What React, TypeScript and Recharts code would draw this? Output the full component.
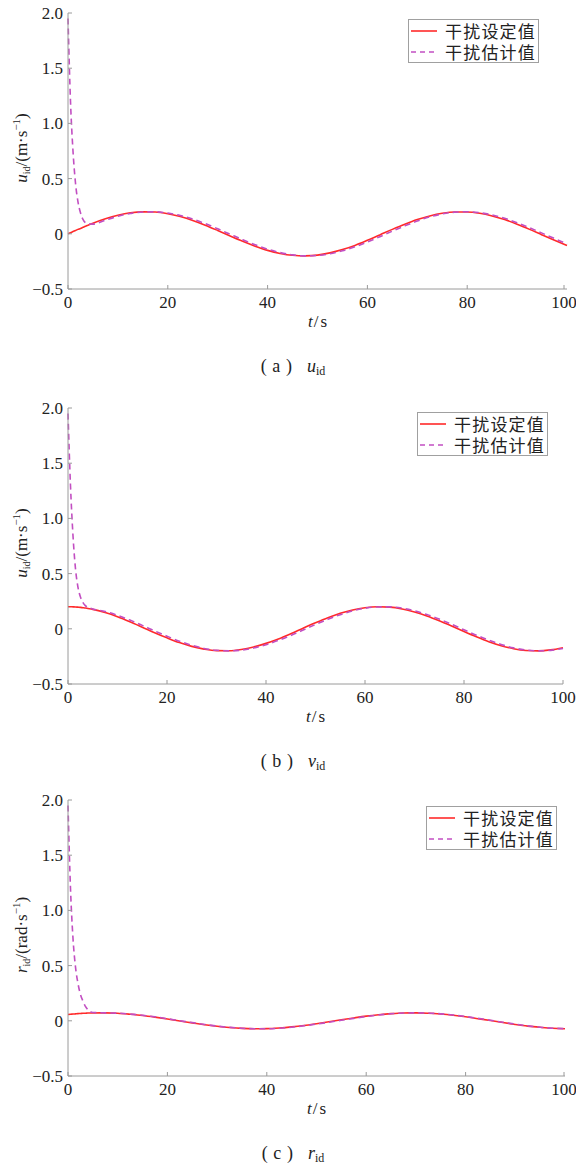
import React from 'react';
import { LineChart, Line, XAxis, YAxis } from 'recharts';

const TIMES = [0, 0.5, 1, 1.5, 2, 2.5, 3, 3.5, 4, 5, 7.5, 10, 12.5, 15, 17.5, 20, 22.5, 25, 27.5, 30, 32.5, 35, 37.5, 40, 42.5, 45, 47.5, 50, 52.5, 55, 57.5, 60, 62.5, 65, 67.5, 70, 72.5, 75, 77.5, 80, 82.5, 85, 87.5, 90, 92.5, 95, 97.5, 100];

const U_SET = [0, 0.01, 0.02, 0.03, 0.04, 0.049, 0.059, 0.069, 0.078, 0.096, 0.136, 0.168, 0.19, 0.199, 0.197, 0.182, 0.156, 0.121, 0.078, 0.03, -0.02, -0.068, -0.112, -0.15, -0.178, -0.195, -0.2, -0.193, -0.173, -0.143, -0.105, -0.059, -0.01, 0.04, 0.087, 0.129, 0.162, 0.186, 0.198, 0.198, 0.186, 0.162, 0.129, 0.087, 0.04, -0.01, -0.059, -0.106];
const U_EST = [1.95, 1.2, 0.75, 0.46, 0.29, 0.19, 0.13, 0.1, 0.09, 0.088, 0.124, 0.159, 0.184, 0.198, 0.199, 0.188, 0.166, 0.133, 0.092, 0.045, -0.004, -0.053, -0.099, -0.139, -0.17, -0.191, -0.2, -0.196, -0.181, -0.154, -0.118, -0.074, -0.026, 0.024, 0.072, 0.116, 0.153, 0.18, 0.196, 0.2, 0.191, 0.171, 0.14, 0.101, 0.055, 0.006, -0.043, -0.092];

const V_SET = [0.2, 0.2, 0.199, 0.198, 0.196, 0.194, 0.191, 0.188, 0.184, 0.176, 0.147, 0.109, 0.064, 0.015, -0.035, -0.082, -0.125, -0.159, -0.184, -0.198, -0.199, -0.188, -0.165, -0.132, -0.092, -0.045, 0.005, 0.054, 0.1, 0.14, 0.171, 0.191, 0.2, 0.196, 0.18, 0.153, 0.117, 0.073, 0.025, -0.025, -0.073, -0.117, -0.153, -0.18, -0.196, -0.2, -0.191, -0.171];
const V_EST = [1.95, 1.3, 0.85, 0.55, 0.38, 0.29, 0.24, 0.21, 0.195, 0.18, 0.157, 0.122, 0.079, 0.031, -0.019, -0.067, -0.112, -0.149, -0.178, -0.195, -0.2, -0.193, -0.174, -0.144, -0.105, -0.06, -0.011, 0.039, 0.086, 0.128, 0.162, 0.186, 0.198, 0.199, 0.187, 0.163, 0.129, 0.088, 0.041, -0.009, -0.058, -0.103, -0.142, -0.173, -0.192, -0.2, -0.195, -0.178];

const R_SET = [0.057, 0.06, 0.061, 0.063, 0.065, 0.066, 0.068, 0.069, 0.07, 0.071, 0.072, 0.068, 0.059, 0.048, 0.033, 0.016, -0.002, -0.019, -0.036, -0.05, -0.061, -0.069, -0.072, -0.071, -0.065, -0.055, -0.042, -0.026, -0.009, 0.009, 0.026, 0.042, 0.055, 0.065, 0.071, 0.072, 0.069, 0.061, 0.05, 0.036, 0.019, 0.002, -0.016, -0.033, -0.048, -0.059, -0.068, -0.072];
const R_EST = [1.95, 1.2, 0.75, 0.49, 0.34, 0.24, 0.18, 0.13, 0.1, 0.075, 0.072, 0.069, 0.061, 0.05, 0.036, 0.019, 0.001, -0.016, -0.033, -0.048, -0.059, -0.068, -0.072, -0.072, -0.067, -0.058, -0.045, -0.03, -0.013, 0.005, 0.022, 0.039, 0.053, 0.064, 0.07, 0.072, 0.07, 0.063, 0.052, 0.039, 0.022, 0.005, -0.013, -0.03, -0.046, -0.058, -0.067, -0.071];

const X_TICKS = [0, 20, 40, 60, 80, 100];
const Y_TICKS = [-0.5, 0, 0.5, 1, 1.5, 2];
const LEGEND_NAMES = ['干扰设定值', '干扰估计值'];

const SET_COLOR = '#ff2a2a';
const EST_COLOR = '#c24fc2';
const AXIS_COLOR = '#9a9a9a';
const SERIF = "'Liberation Serif', 'DejaVu Serif', serif";
const CJK = "'Noto Sans CJK SC', sans-serif";

const serifStyle: React.CSSProperties = { fontFamily: SERIF };

const fmtY = (v: number) => {
  if (v === 0) return '0';
  const s = v.toFixed(1);
  return s.replace('-', '\u2212');
};

const XTick = (props: any) => {
  const { x, y, payload } = props;
  return (
    <g>
      <line x1={x} y1={y} x2={x} y2={y - 4} stroke={AXIS_COLOR} strokeWidth={1} />
      <text x={x} y={y + 19} textAnchor="middle" style={serifStyle} fontSize={17} fill="#222">
        {payload.value}
      </text>
    </g>
  );
};

const YTick = (props: any) => {
  const { x, y, payload } = props;
  return (
    <g>
      <line x1={x} y1={y} x2={x + 4} y2={y} stroke={AXIS_COLOR} strokeWidth={1} />
      <text x={x - 5} y={y + 6} textAnchor="end" style={serifStyle} fontSize={17} fill="#222">
        {fmtY(payload.value)}
      </text>
    </g>
  );
};

const makeYLabel = (sym: string, unit: string) => (props: any) => {
  const cx = 27;
  const cy = 148;
  return (
    <text
      x={cx}
      y={cy}
      transform={`rotate(-90, ${cx}, ${cy})`}
      textAnchor="middle"
      style={serifStyle}
      fontSize={17}
      fill="#222"
    >
      <tspan fontStyle="italic">{sym}</tspan>
      <tspan fontSize={10} dy={3}>id</tspan>
      <tspan dy={-3}>{`/(${unit}\u00b7s`}</tspan>
      <tspan fontSize={11} dy={-7}>{'\u22121'}</tspan>
      <tspan dy={7}>)</tspan>
    </text>
  );
};

const XLabel = (props: any) => {
  const vb = props.viewBox || {};
  const cx = vb.x + vb.width / 2;
  return (
    <text x={cx} y={327} textAnchor="middle" style={serifStyle} fontSize={17} fill="#222">
      <tspan fontStyle="italic">t</tspan>
      <tspan dx={1}>/</tspan>
      <tspan dx={2}>s</tspan>
    </text>
  );
};

const LegendBox = ({ left, top }: { left: number; top: number }) => (
  <div
    style={{
      position: 'absolute',
      left,
      top,
      border: '1px solid #a0a0a0',
      background: '#fff',
      padding: '0px 2px 0px 1px',
      fontFamily: CJK,
      fontSize: 17,
      lineHeight: '21px',
      color: '#222',
      boxSizing: 'border-box',
    }}
  >
    {LEGEND_NAMES.map((n, i) => (
      <div key={n} style={{ display: 'flex', alignItems: 'center', height: 21 }}>
        <svg width={28} height={10} style={{ marginRight: 7 }}>
          <line
            x1={1}
            y1={5}
            x2={27}
            y2={5}
            stroke={i === 0 ? SET_COLOR : EST_COLOR}
            strokeWidth={1.6}
            strokeDasharray={i === 0 ? undefined : '5 4'}
          />
        </svg>
        <span style={{ letterSpacing: 1.2 }}>{n}</span>
      </div>
    ))}
  </div>
);

type PanelProps = {
  set: number[];
  est: number[];
  top: number;
  right: number;
  sym: string;
  unit: string;
  legendLeft: number;
  legendTop: number;
  capLetter: string;
  capSym: string;
};

const Panel = (p: PanelProps) => {
  const data = TIMES.map((t, i) => ({ t, set: p.set[i], est: p.est[i] }));
  const YL = makeYLabel(p.sym, p.unit);
  return (
    <div style={{ position: 'absolute', left: 0, top: p.top, width: 576, height: 390 }}>
      <LineChart width={576} height={340} data={data} margin={{ top: 13, right: p.right, left: 0, bottom: 0 }}>
        <XAxis
          dataKey="t"
          type="number"
          domain={[0, 100]}
          ticks={X_TICKS}
          stroke={AXIS_COLOR}
          tickLine={false}
          tickSize={0}
          tickMargin={0}
          tick={<XTick />}
          height={51}
          label={<XLabel />}
        />
        <YAxis
          type="number"
          domain={[-0.5, 2]}
          ticks={Y_TICKS}
          allowDataOverflow
          stroke={AXIS_COLOR}
          tickLine={false}
          tickSize={0}
          tickMargin={0}
          tick={<YTick />}
          width={68}
          label={<YL />}
        />
        <Line type="monotone" dataKey="set" stroke={SET_COLOR} strokeWidth={1.6} dot={false} isAnimationActive={false} />
        <Line
          type="monotone"
          dataKey="est"
          stroke={EST_COLOR}
          strokeWidth={1.6}
          strokeDasharray="6 4"
          dot={false}
          isAnimationActive={false}
        />
      </LineChart>
      <LegendBox left={p.legendLeft} top={p.legendTop} />
      <div
        style={{
          position: 'absolute',
          top: 356,
          left: 0,
          width: 576,
          textAlign: 'center',
          fontFamily: SERIF,
          fontSize: 18,
          color: '#222',
          paddingLeft: 10,
          boxSizing: 'border-box',
        }}
      >
        <span style={{ letterSpacing: 1 }}>{`(\u2009${p.capLetter}\u2009)`}</span>
        <span style={{ marginLeft: 14, fontStyle: 'italic' }}>{p.capSym}</span>
        <span style={{ fontSize: 12, verticalAlign: -3 }}>id</span>
      </div>
    </div>
  );
};

export default function App() {
  return (
    <div style={{ position: 'absolute', left: 0, top: 0, width: 576, height: 1176, background: '#fff', overflow: 'hidden' }}>
      <Panel set={U_SET} est={U_EST} top={0} right={9} sym="u" unit="m" legendLeft={408} legendTop={19} capLetter="a" capSym="u" />
      <Panel set={V_SET} est={V_EST} top={395} right={13} sym="u" unit="m" legendLeft={417} legendTop={17} capLetter="b" capSym="v" />
      <Panel set={R_SET} est={R_EST} top={787} right={11} sym="r" unit="rad" legendLeft={426} legendTop={19} capLetter="c" capSym="r" />
    </div>
  );
}
